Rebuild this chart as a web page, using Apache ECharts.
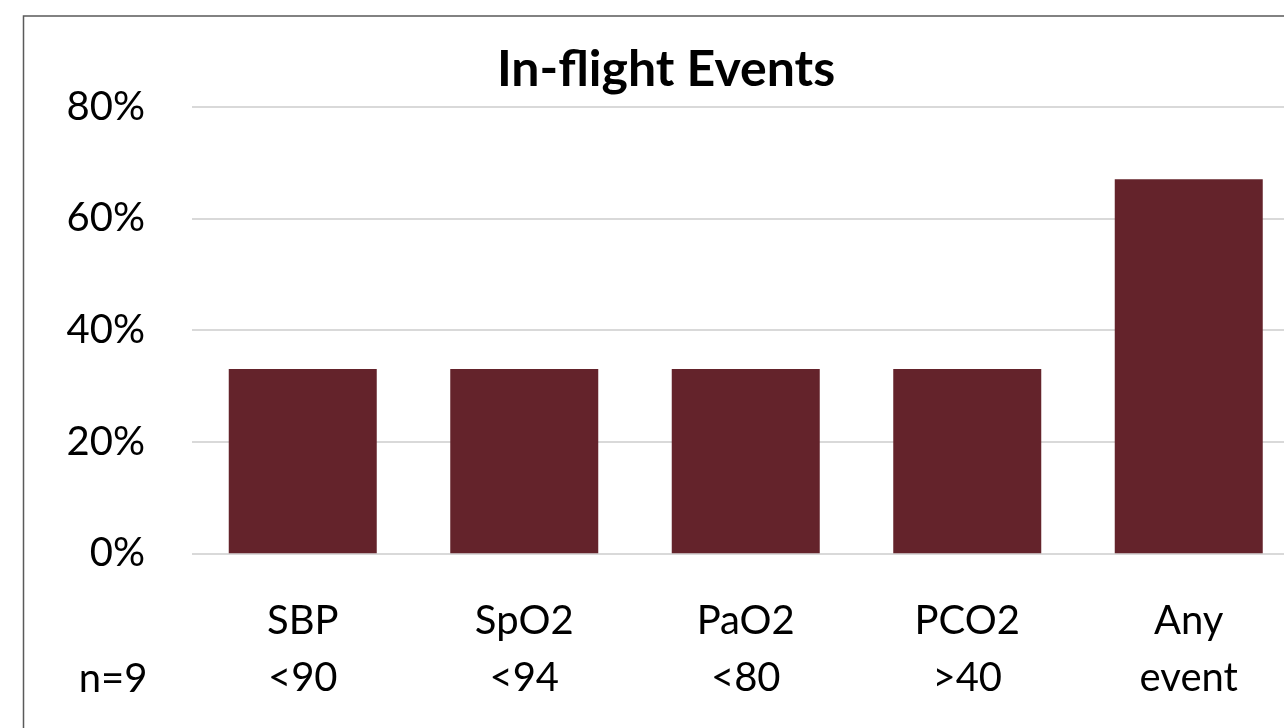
<!DOCTYPE html>
<html>
<head>
<meta charset="utf-8">
<script src="https://cdn.jsdelivr.net/npm/echarts@6/dist/echarts.min.js"></script>
<style>
  html, body { margin: 0; padding: 0; background: #fff; }
  #chart { width: 1284px; height: 728px; }
</style>
</head>
<body>
<div id="chart"></div>
<script>
// Share of flights with each in-flight event (n = 9 patients)
const categories = ['SBP\n<90', 'SpO2\n<94', 'PaO2\n<80', 'PCO2\n>40', 'Any\nevent'];
const eventPercent = [33, 33, 33, 33, 67];
const yTicks = [0, 20, 40, 60, 80];
const titleText = 'In-flight Events';
const sampleText = 'n=9';

const FONT = 'Lato, "Open Sans", sans-serif';
const chart = echarts.init(document.getElementById('chart'), null, { renderer: 'canvas' });

chart.setOption({
  backgroundColor: '#ffffff',
  animation: false,
  grid: {
    left: 192, top: 106.7, width: 1107.5, height: 446.6,
    containLabel: false,
    outerBoundsMode: 'none'
  },
  xAxis: {
    type: 'category',
    data: categories,
    axisLine: { show: false },
    axisTick: { show: false },
    axisLabel: {
      interval: 0,
      margin: 39,
      color: '#000',
      fontFamily: FONT,
      fontSize: 40,
      lineHeight: 57
    }
  },
  yAxis: {
    type: 'value',
    min: yTicks[0],
    max: yTicks[yTicks.length - 1],
    interval: yTicks[1] - yTicks[0],
    axisLine: { show: false },
    axisTick: { show: false },
    splitLine: { lineStyle: { color: '#d9d9d9', width: 2 } },
    axisLabel: {
      margin: 47,
      color: '#000',
      fontFamily: FONT,
      fontSize: 40,
      formatter: '{value}%'
    }
  },
  series: [{
    type: 'bar',
    data: eventPercent,
    barWidth: 148,
    itemStyle: { color: '#64232b' }
  }],
  graphic: [
    {
      type: 'rect',
      silent: true,
      shape: { x: 23.5, y: 16, width: 1400, height: 800 },
      style: { fill: 'none', stroke: '#5a5a5a', lineWidth: 1.5 }
    },
    {
      type: 'text',
      silent: true,
      style: {
        text: titleText,
        x: 666, y: 70,
        textAlign: 'center',
        textVerticalAlign: 'middle',
        fontFamily: FONT,
        fontWeight: 'bold',
        fontSize: 50,
        fill: '#000'
      }
    },
    {
      type: 'text',
      silent: true,
      style: {
        text: sampleText,
        x: 113, y: 679,
        textAlign: 'center',
        textVerticalAlign: 'middle',
        fontFamily: FONT,
        fontSize: 40,
        fill: '#000'
      }
    }
  ]
});
</script>
</body>
</html>
